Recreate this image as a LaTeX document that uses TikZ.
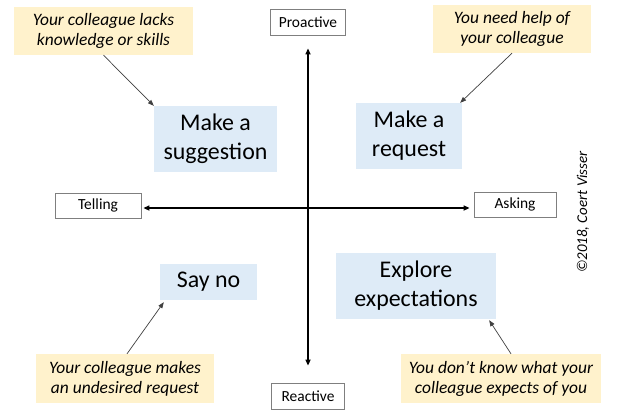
\documentclass[tikz,border=0pt]{standalone}
\usepackage{fontspec}
\setmainfont{Carlito}
\usetikzlibrary{arrows.meta}
\definecolor{boxblue}{HTML}{DEEBF7}
\definecolor{boxyellow}{HTML}{FFF2CC}
\definecolor{labgray}{HTML}{7F7F7F}
\definecolor{thinarrow}{HTML}{404040}
\tikzset{
  situation/.style={fill=boxyellow, inner sep=0pt, align=center,
    font=\fontsize{17.5}{20}\selectfont\itshape},
  action/.style={fill=boxblue, inner sep=0pt, align=center,
    font=\fontsize{24}{29}\selectfont},
  axislabel/.style={draw=labgray, line width=0.8bp, fill=white, inner sep=0pt,
    font=\fontsize{15.5}{17}\selectfont},
  axisline/.style={line width=1.6bp, black, {Triangle[length=6bp,width=5bp]}-{Triangle[length=6bp,width=5bp]}},
  hint/.style={line width=0.7bp, thinarrow, -{Triangle[length=6bp,width=4.5bp]}},
}
\begin{document}
\begin{tikzpicture}[x=1bp,y=-1bp]
\useasboundingbox[fill=white] (0,0) rectangle (625,419);
% situations
\node[situation, minimum width=179bp, minimum height=48bp] (yTL) at (103.5,31) {Your colleague lacks\\knowledge or skills};
\node[situation, minimum width=158bp, minimum height=48bp] (yTR) at (512,29) {You need help of\\your colleague};
\node[situation, minimum width=178bp, minimum height=49bp] (yBL) at (125,378.5) {Your colleague makes\\an undesired request};
\node[situation, minimum width=200bp, minimum height=49bp] (yBR) at (501,378.5) {You don’t know what your\\colleague expects of you};
% actions
\node[action, minimum width=123bp, minimum height=66bp] (sugg) at (215.5,139) {Make a\\suggestion};
\node[action, minimum width=106bp, minimum height=66bp] (req) at (409,136) {Make a\\request};
\node[action, minimum width=97bp, minimum height=36bp] (sayno) at (208.5,282) {Say no};
\node[action, minimum width=160bp, minimum height=66bp] (explore) at (416,286) {Explore\\expectations};
% axis labels
\coordinate (o) at (308,208);
\node[axislabel, minimum width=75bp, minimum height=26bp] (pro) at (308,22) {Proactive};
\node[axislabel, minimum width=73bp, minimum height=26bp] (rea) at (308,396) {Reactive};
\node[axislabel, minimum width=86bp, minimum height=25bp] (tell) at (98,205.5) {Telling};
\node[axislabel, minimum width=82bp, minimum height=25bp] (ask) at (515,204.5) {Asking};
% axes
\draw[axisline, shorten <=13bp, shorten >=17bp] (pro) -- (rea);
\draw[axisline, shorten <=2bp, shorten >=4bp] (tell.east |- o) -- (ask.west |- o);
% hint arrows
\draw[hint] (yTL.south) -- (sugg.north west);
\draw[hint] (yTR.south) -- ([xshift=-2bp]req.north east);
\draw[hint] ([xshift=2bp]yBL.north) -- ([shift={(4bp,-2bp)}]sayno.south west);
\draw[hint] ([xshift=10bp]yBR.north) -- ([shift={(-7bp,-1bp)}]explore.south east);
% copyright
\node[rotate=90, font=\fontsize{15}{17}\selectfont\itshape] (copy) at (583,212) {©2018, Coert Visser};
\end{tikzpicture}
\end{document}
